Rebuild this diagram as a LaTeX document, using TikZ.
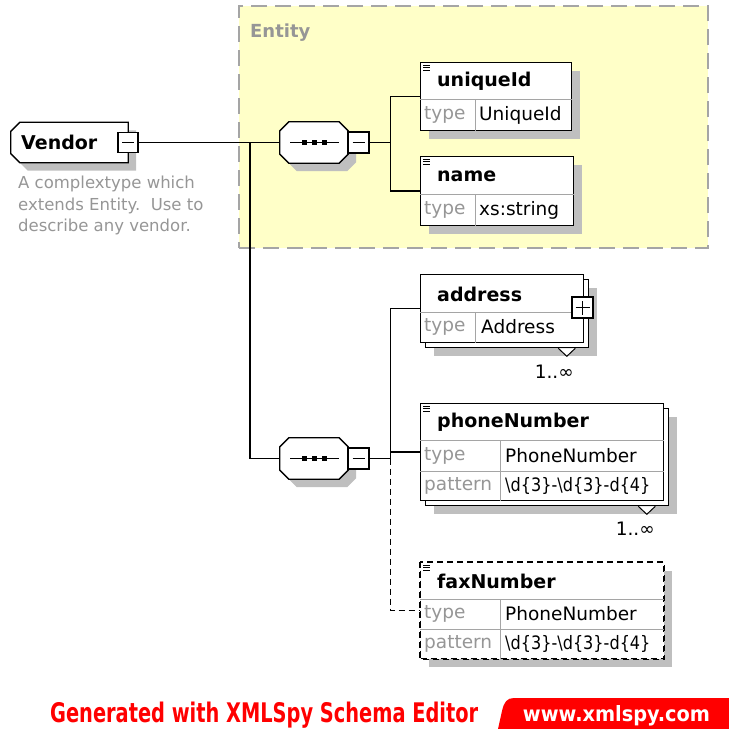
\documentclass[tikz,border=0pt]{standalone}
\usepackage{fontspec}
\setmainfont{DejaVu Sans}
\usepackage{graphicx}
\usetikzlibrary{shadows,positioning}

\definecolor{entityfill}{RGB}{255,255,200}
\definecolor{framegray}{RGB}{165,165,165}
\definecolor{textgray}{RGB}{150,150,150}
\definecolor{spyred}{RGB}{255,0,0}

% outline of a compositor: all four corners cut
\newcommand{\seqpath}[1]{([xshift=9pt]#1.north west) -- ([xshift=-9pt]#1.north east)
  -- ([yshift=-9pt]#1.north east) -- ([yshift=9pt]#1.south east)
  -- ([xshift=-9pt]#1.south east) -- ([xshift=9pt]#1.south west)
  -- ([yshift=9pt]#1.south west) -- ([yshift=-9pt]#1.north west) -- cycle}
% outline of a complex type: left corners cut
\newcommand{\typepath}[1]{([xshift=9pt]#1.north west) -- (#1.north east)
  -- (#1.south east) -- ([xshift=9pt]#1.south west)
  -- ([yshift=9pt]#1.south west) -- ([yshift=-9pt]#1.north west) -- cycle}

\tikzset{
  wire/.style={line width=1.4pt},
  outline/.style={draw, fill=white, line width=1.3pt},
  shade8/.style={fill=black!25, transform canvas={shift={(8pt,-8pt)}}},
  elem/.style={draw, fill=white, line width=1.3pt, anchor=north west, inner sep=0pt,
    drop shadow={shadow xshift=8pt, shadow yshift=-8pt, fill=black!25, opacity=1}},
  multielem/.style={draw, fill=white, line width=1.3pt, anchor=north west, inner sep=0pt,
    drop shadow={shadow xshift=13pt, shadow yshift=-13pt, fill=black!25, opacity=1},
    copy shadow={shadow xshift=5pt, shadow yshift=-5pt}},
  optdash/.style={dash pattern=on 6pt off 4pt},
  cellline/.style={draw=framegray, line width=0.9pt},
  headtext/.style={anchor=west, inner sep=0pt, font=\fontsize{19}{21}\selectfont\bfseries},
  keytext/.style={anchor=west, inner sep=0pt, text=textgray, font=\fontsize{18.5}{20}\selectfont},
  valtext/.style={anchor=west, inner sep=0pt, font=\fontsize{18.5}{20}\selectfont},
  togglebox/.style={draw, fill=white, line width=1.3pt, minimum size=#1, inner sep=0pt},
  seqbox/.style={inner sep=0pt, minimum width=68pt, minimum height=41pt},
}

\begin{document}
\begin{tikzpicture}[x=1pt, y=-1pt]
    \useasboundingbox (0,0) rectangle (729,729);

    % Entity base type
    \node[draw=framegray, fill=entityfill, line width=2pt, dash pattern=on 16pt off 8pt,
      anchor=north west, minimum width=469pt, minimum height=242pt] (entity) at (238,5) {};
    \node[anchor=west, inner sep=0pt, text=textgray, font=\fontsize{18}{20}\selectfont\bfseries]
      (entitylbl) at (250,33) {Entity};

    % Vendor complex type
    \node[inner sep=0pt, minimum width=117pt, minimum height=40pt] (vendor) at (69.5,142.5) {};
    \fill[shade8] \typepath{vendor};
    \draw[outline] \typepath{vendor};
    \node[anchor=west, inner sep=0pt, font=\fontsize{19}{21}\selectfont\bfseries]
      (vendorname) at (21,142) {Vendor};
    \node[togglebox=20pt] (vmin) at (128,142.5) {};
    \draw[line width=1pt] ([xshift=-6pt]vmin.center) -- ([xshift=6pt]vmin.center);
    \node[anchor=north west, align=left, inner sep=0pt, text=textgray,
      font=\fontsize{16.5}{21.5}\selectfont] (vendordoc) at (18,176)
      {A complextype which\\extends Entity.\ \ Use to\\describe any vendor.};

    % Sequence inside Entity
    \node[seqbox] (seq1) at (314,142.5) {};
    \fill[shade8] \seqpath{seq1};
    \draw[outline] \seqpath{seq1};
    \draw[wire] ([xshift=-24pt]seq1.center) -- ([xshift=25pt]seq1.center);
    \foreach \d in {-12.5,-2.5,7.5}
        \fill ([shift={(\d pt,-2.5pt)}]seq1.center) rectangle ++(5pt,5pt);
    \node[togglebox=21pt] (s1min) at (358.5,142.5) {};
    \draw[line width=1pt] ([xshift=-6pt]s1min.center) -- ([xshift=6pt]s1min.center);

    % Sequence of Vendor
    \node[seqbox] (seq2) at (314,458.5) {};
    \fill[shade8] \seqpath{seq2};
    \draw[outline] \seqpath{seq2};
    \draw[wire] ([xshift=-24pt]seq2.center) -- ([xshift=25pt]seq2.center);
    \foreach \d in {-12.5,-2.5,7.5}
        \fill ([shift={(\d pt,-2.5pt)}]seq2.center) rectangle ++(5pt,5pt);
    \node[togglebox=21pt] (s2min) at (358.5,458.5) {};
    \draw[line width=1pt] ([xshift=-6pt]s2min.center) -- ([xshift=6pt]s2min.center);

    % uniqueId
    \node[elem, minimum width=151pt, minimum height=68pt] (uid) at (420,62) {};
    \draw[cellline] ([yshift=-37pt]uid.north west) -- ([yshift=-37pt]uid.north east);
    \draw[cellline] ([shift={(55pt,-37pt)}]uid.north west) -- ([xshift=55pt]uid.south west);
    \foreach \d in {3,5.5,8}
        \draw[line width=0.8pt] ([shift={(3pt,-\d pt)}]uid.north west) -- ++(7pt,0);
    \node[headtext] (uidname) at ([shift={(17pt,-19pt)}]uid.north west) {uniqueId};
    \node[keytext] (uidkey) at ([shift={(4pt,-53pt)}]uid.north west) {type};
    \node[valtext] (uidval) at ([shift={(59pt,-53pt)}]uid.north west) {UniqueId};

    % name
    \node[elem, minimum width=153pt, minimum height=69pt] (name) at (420,156) {};
    \draw[cellline] ([yshift=-38pt]name.north west) -- ([yshift=-38pt]name.north east);
    \draw[cellline] ([shift={(55pt,-38pt)}]name.north west) -- ([xshift=55pt]name.south west);
    \foreach \d in {3,5.5,8}
        \draw[line width=0.8pt] ([shift={(3pt,-\d pt)}]name.north west) -- ++(7pt,0);
    \node[headtext] (namename) at ([shift={(17pt,-20pt)}]name.north west) {name};
    \node[keytext] (namekey) at ([shift={(4pt,-54pt)}]name.north west) {type};
    \node[valtext] (nameval) at ([shift={(59pt,-54pt)}]name.north west) {xs:string};

    % address
    \node[multielem, minimum width=163pt, minimum height=68pt] (addr) at (420,274) {};
    \draw[cellline] ([yshift=-38pt]addr.north west) -- ([yshift=-38pt]addr.north east);
    \draw[cellline] ([shift={(55pt,-38pt)}]addr.north west) -- ([xshift=55pt]addr.south west);
    \node[headtext] (addrname) at ([shift={(17pt,-20pt)}]addr.north west) {address};
    \node[keytext] (addrkey) at ([shift={(4pt,-53pt)}]addr.north west) {type};
    \node[valtext] (addrval) at ([shift={(61pt,-53pt)}]addr.north west) {Address};
    \node[togglebox=21pt] (addrplus) at (582.5,307.5) {};
    \draw[line width=1pt] ([xshift=-7pt]addrplus.center) -- ([xshift=7pt]addrplus.center);
    \draw[line width=1pt] ([yshift=-7pt]addrplus.center) -- ([yshift=7pt]addrplus.center);
    \draw[line width=1pt, fill=white] ([shift={(-26pt,-5pt)}]addr.south east)
      -- ([shift={(-17.5pt,-13pt)}]addr.south east) -- ([shift={(-9pt,-5pt)}]addr.south east);
    \node[valtext, anchor=center] (addrocc) at ([shift={(-30pt,-28pt)}]addr.south east) {1..∞};

    % phoneNumber
    \node[multielem, minimum width=243pt, minimum height=97pt] (phone) at (420,403) {};
    \draw[cellline] ([yshift=-37pt]phone.north west) -- ([yshift=-37pt]phone.north east);
    \draw[cellline] ([yshift=-68pt]phone.north west) -- ([yshift=-68pt]phone.north east);
    \draw[cellline] ([shift={(80pt,-37pt)}]phone.north west) -- ([xshift=80pt]phone.south west);
    \foreach \d in {3,5.5,8}
        \draw[line width=0.8pt] ([shift={(3pt,-\d pt)}]phone.north west) -- ++(7pt,0);
    \node[headtext] (phonename) at ([shift={(17pt,-19pt)}]phone.north west) {phoneNumber};
    \node[keytext] (phonekey) at ([shift={(4pt,-53pt)}]phone.north west) {type};
    \node[valtext] (phoneval) at ([shift={(85pt,-53pt)}]phone.north west) {PhoneNumber};
    \node[keytext] (phonepkey) at ([shift={(4pt,-83pt)}]phone.north west) {pattern};
    \node[valtext] (phonepval) at ([shift={(85pt,-83pt)}]phone.north west)
      {\scalebox{0.87}[1]{\textbackslash d\{3\}-\textbackslash d\{3\}-d\{4\}}};
    \draw[line width=1pt, fill=white] ([shift={(-26pt,-5pt)}]phone.south east)
      -- ([shift={(-17.5pt,-13pt)}]phone.south east) -- ([shift={(-9pt,-5pt)}]phone.south east);
    \node[valtext, anchor=center] (phoneocc) at ([shift={(-29pt,-27pt)}]phone.south east) {1..∞};

    % faxNumber (optional)
    \node[elem, optdash, minimum width=243pt, minimum height=96pt] (fax) at (420,562) {};
    \draw[cellline] ([yshift=-37pt]fax.north west) -- ([yshift=-37pt]fax.north east);
    \draw[cellline] ([yshift=-67pt]fax.north west) -- ([yshift=-67pt]fax.north east);
    \draw[cellline] ([shift={(80pt,-37pt)}]fax.north west) -- ([xshift=80pt]fax.south west);
    \draw[line width=1.3pt, optdash] (fax.north west) rectangle (fax.south east);
    \foreach \d in {3,5.5,8}
        \draw[line width=0.8pt] ([shift={(3pt,-\d pt)}]fax.north west) -- ++(7pt,0);
    \node[headtext] (faxname) at ([shift={(17pt,-19pt)}]fax.north west) {faxNumber};
    \node[keytext] (faxkey) at ([shift={(4pt,-52pt)}]fax.north west) {type};
    \node[valtext] (faxval) at ([shift={(85pt,-52pt)}]fax.north west) {PhoneNumber};
    \node[keytext] (faxpkey) at ([shift={(4pt,-82pt)}]fax.north west) {pattern};
    \node[valtext] (faxpval) at ([shift={(85pt,-82pt)}]fax.north west)
      {\scalebox{0.87}[1]{\textbackslash d\{3\}-\textbackslash d\{3\}-d\{4\}}};

    % connectors
    \coordinate (trunk) at (250,142.5);
    \draw[wire] (vmin.east) -- (seq1.west);
    \draw[wire] (trunk) |- (seq2.west);
    \draw[wire] (s1min.east) -- ++(21pt,0) coordinate (fork1);
    \draw[wire] (uid.west) -| (fork1) |- (name.west);
    \draw[wire] (s2min.east) -- ++(21pt,0) coordinate (fork2);
    \draw[wire] (addr.west) -| (fork2) |- (phone.west);
    \draw[wire, optdash] (fork2) |- (fax.west);

    % footer
    \node[anchor=base west, inner sep=0pt, text=spyred] (gen) at (50,722)
      {\resizebox{428pt}{20.5pt}{\bfseries Generated with XMLSpy Schema Editor}};
    \fill[spyred] (498,729) -- (502,711) .. controls (504,702) and (507,698) .. (514,698)
      -- (729,698) -- (729,729) -- cycle;
    \node[anchor=base, text=white, inner sep=0pt] (site) at (616.5,721)
      {\resizebox{187pt}{16pt}{\bfseries www.xmlspy.com}};
\end{tikzpicture}
\end{document}
